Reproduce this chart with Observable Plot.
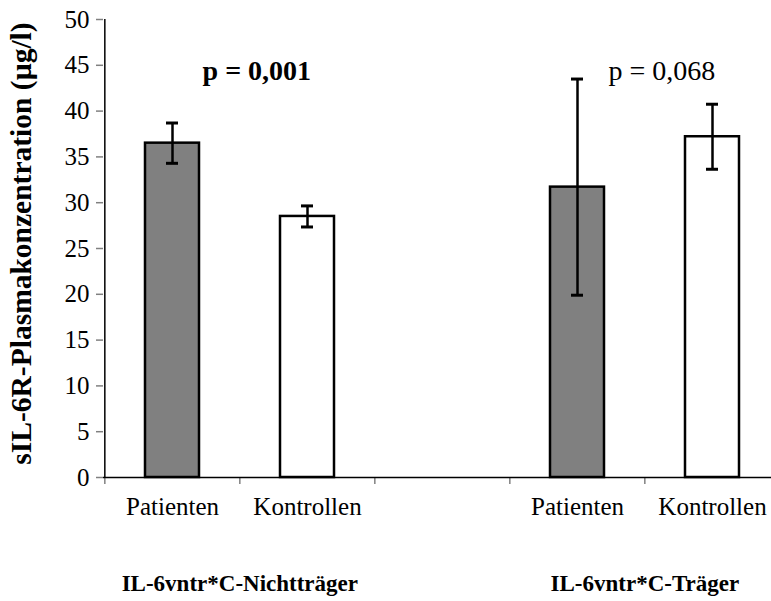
<!DOCTYPE html>
<html>
<head>
<meta charset="utf-8">
<script src="https://cdn.jsdelivr.net/npm/d3@7"></script>
<script src="https://cdn.jsdelivr.net/npm/@observablehq/plot@0.6"></script>
<style>
  html, body { margin: 0; padding: 0; background: #fff; }
  svg { display: block; }
</style>
</head>
<body>
<div id="chart"></div>
<script>
// sIL-6R plasma concentration by IL-6vntr*C carrier status
const groups = ["IL-6vntr*C-Nichtträger", "IL-6vntr*C-Träger"];
const categories = ["Patienten", "Kontrollen"];
// means and error half-widths, ordered group by group (Patienten, Kontrollen)
const means = [36.5, 28.5, 31.7, 37.2];
const errors = [2.2, 1.15, 11.8, 3.55];
const pLabels = ["p = 0,001", "p = 0,068"];
const pBold = [true, false];
const yTicks = [0, 5, 10, 15, 20, 25, 30, 35, 40, 45, 50];
const yLabel = "sIL-6R-Plasmakonzentration (µg/l)";

const rows = means.map((m, i) => ({
  group: groups[Math.floor(i / 2)],
  category: categories[i % 2],
  key: groups[Math.floor(i / 2)] + "|" + categories[i % 2],
  mean: m,
  err: errors[i]
}));

// a blank slot separates the two groups on the x axis
const domain = [rows[0].key, rows[1].key, "gap", rows[2].key, rows[3].key];
const xRange = [103.3, 780];
const step = (xRange[1] - xRange[0]) / domain.length;

const serif = "'Liberation Serif', 'Times New Roman', serif";

const pText = (bold) => Plot.text(pLabels.filter((p, i) => pBold[i] === bold), {
  x: (p) => rows[pLabels.indexOf(p) * 2 + 1].key,
  dx: -step / 2 + 17,
  frameAnchor: "top", lineAnchor: "middle", dy: 52,
  text: d => d, fontSize: 28, fontFamily: serif,
  fontWeight: bold ? "bold" : "normal", fill: "#000"
});

const plot = Plot.plot({
  width: 771,
  height: 601,
  marginTop: 19,
  marginBottom: 124,
  marginLeft: 103,
  marginRight: 0,
  style: { fontFamily: serif, background: "#fff", overflow: "visible" },
  x: { domain, range: xRange, paddingInner: 0.6, paddingOuter: 0.3, axis: null },
  y: { domain: [0, 50], axis: null },
  marks: [
    // y axis
    Plot.axisY({ ticks: yTicks, tickSize: 7, stroke: "#808080", strokeWidth: 1.5,
      tickPadding: 7, fontSize: 25, fontFamily: serif, fontVariant: "normal",
      fill: "#000", label: null }),
    Plot.ruleX([domain[0]], { dx: -step / 2, y1: 0, y2: 50, stroke: "#000", strokeWidth: 1.5 }),
    // x axis ticks on band boundaries
    Plot.axisX({ ticks: domain, tickSize: 7, dx: -step / 2, stroke: "#808080", strokeWidth: 1.5,
      tickFormat: () => "", label: null }),
    Plot.axisX({ ticks: domain.filter(d => d !== "gap"), tickSize: 0, tickPadding: 20,
      tickFormat: d => d.split("|")[1], fontSize: 25, fontFamily: serif, fontVariant: "normal",
      fill: "#000", label: null }),
    // bars
    Plot.barY(rows, { x: "key", y: "mean",
      fill: d => d.category === "Patienten" ? "#808080" : "#ffffff",
      stroke: "#000", strokeWidth: 2.5 }),
    // error bars
    Plot.ruleX(rows, { x: "key", y1: d => d.mean - d.err, y2: d => d.mean + d.err,
      stroke: "#000", strokeWidth: 2.5 }),
    Plot.tickY(rows, { x: "key", y: d => d.mean - d.err, insetLeft: 21, insetRight: 21,
      stroke: "#000", strokeWidth: 3 }),
    Plot.tickY(rows, { x: "key", y: d => d.mean + d.err, insetLeft: 21, insetRight: 21,
      stroke: "#000", strokeWidth: 3 }),
    Plot.ruleY([0], { stroke: "#000", strokeWidth: 1.5 }),
    // group labels below the axis
    Plot.text(groups, { x: (g, i) => rows[i * 2 + 1].key, dx: -step / 2,
      frameAnchor: "bottom", lineAnchor: "middle", dy: 106, text: d => d,
      fontSize: 23, fontFamily: serif, fontWeight: "bold", fill: "#000" }),
    // significance labels
    pText(true),
    pText(false),
    // y axis title
    Plot.text([yLabel], { frameAnchor: "left", textAnchor: "middle", lineAnchor: "middle",
      dx: -82, dy: -5, rotate: -90, text: d => d,
      fontSize: 29.5, fontFamily: serif, fontWeight: "bold", fill: "#000" })
  ]
});

document.getElementById("chart").appendChild(plot);
</script>
</body>
</html>
